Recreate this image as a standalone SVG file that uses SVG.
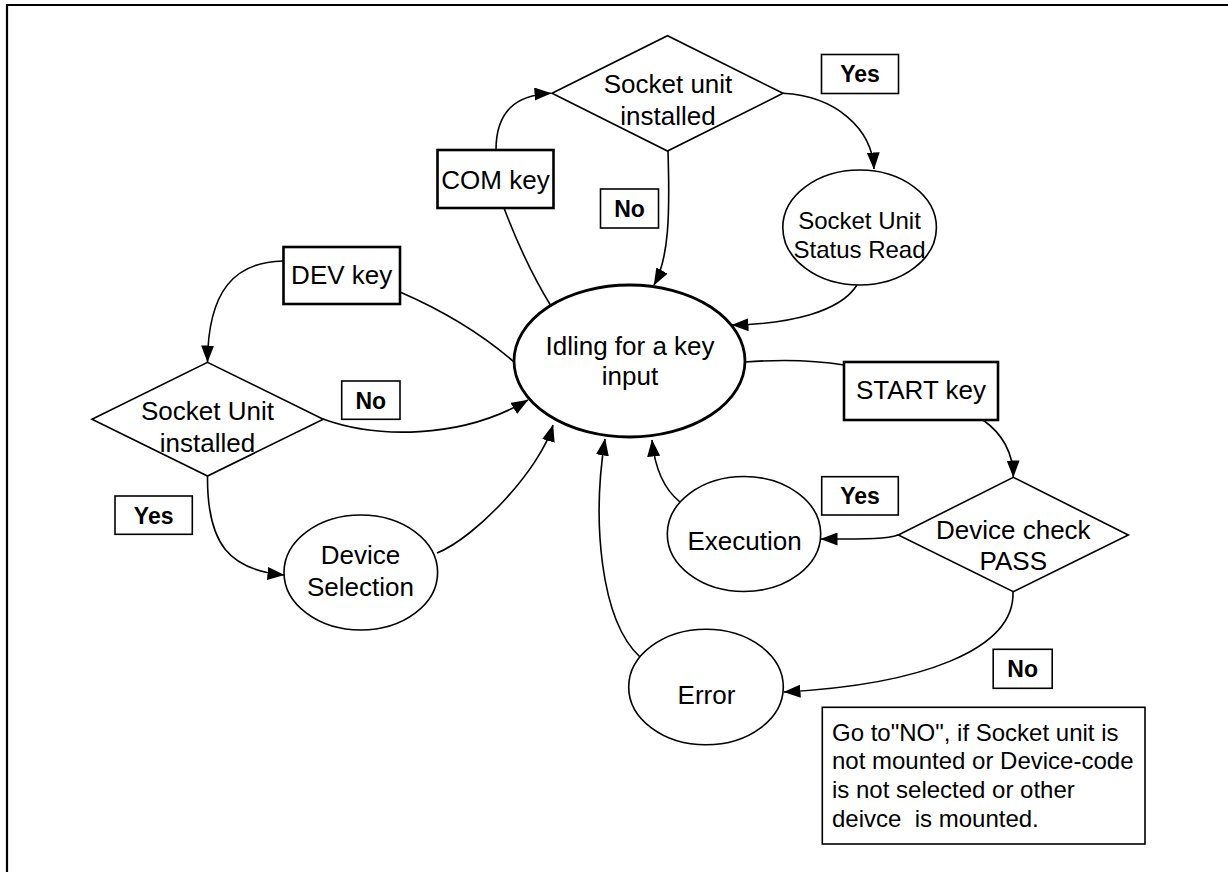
<svg xmlns="http://www.w3.org/2000/svg" width="1228" height="872" viewBox="0 0 1228 872">
<style>
text{font-family:"Liberation Sans",Arial,sans-serif;fill:#000;}
.t{font-size:26px;text-anchor:middle;}
.s{font-size:24px;text-anchor:middle;}
.b{font-size:23px;font-weight:bold;text-anchor:middle;}
.n{font-size:24px;text-anchor:start;}
.shape{fill:#fff;stroke:#000;stroke-width:1.6;}
.key{fill:#fff;stroke:#000;stroke-width:2.6;}
.lab{fill:#fff;stroke:#000;stroke-width:1.6;}
.main{fill:#fff;stroke:#000;stroke-width:2.8;}
.c{fill:none;stroke:#000;stroke-width:1.6;}
.a{marker-end:url(#ah);}
</style>
<defs>
<marker id="ah" viewBox="0 0 17 13" refX="16.5" refY="6.5" markerWidth="17" markerHeight="13" markerUnits="userSpaceOnUse" orient="auto">
<path d="M0,0 L17,6.5 L0,13 z" fill="#000"/>
</marker>
</defs>
<rect width="1228" height="872" fill="#fff"/>
<g id="frame">
<path d="M7,872 L7,5 L1228,5" fill="none" stroke="#000" stroke-width="2.2"/>
</g>
<g id="connectors">
<path class="c a" d="M496,150 C496,112 515,95 551,93.3"/>
<path class="c" d="M504,208 C518,245 535,280 551,306"/>
<path class="c a" d="M668,151 C670,215 669,258 654,285"/>
<path class="c a" d="M783,93.3 C835,96 872,128 874,169"/>
<path class="c a" d="M857,285 C840,312 790,324 732,325"/>
<path class="c a" d="M283,261 C235,262 208,290 207.5,362"/>
<path class="c" d="M400,292 C430,305 475,328 514,362"/>
<path class="c a" d="M323,419 C375,438 460,440 528,400"/>
<path class="c a" d="M207.5,476 C207,545 230,570 284,575"/>
<path class="c a" d="M437,553 C475,538 540,470 553,425"/>
<path class="c" d="M745,362 C785,359 820,361 844,365"/>
<path class="c a" d="M983,420 C1000,432 1013,450 1013.3,477"/>
<path class="c a" d="M898,535 C888,539 870,539 821,539"/>
<path class="c a" d="M680,502 C665,490 655,470 652,440"/>
<path class="c a" d="M1013,592 C1015,650 920,685 784,692"/>
<path class="c a" d="M640,657 C600,620 592,520 605,439"/>
</g>
<g id="idle">
<ellipse class="main" cx="629.5" cy="361" rx="115.5" ry="76"/>
<text class="t" x="630" y="355">Idling for a key</text>
<text class="t" x="630" y="385">input</text>
</g>
<g id="com-key">
<rect class="key" x="437.5" y="150" width="116" height="58"/>
<text class="t" x="495.5" y="188.5">COM key</text>
</g>
<g id="socket-top">
<polygon class="shape" points="552,93.3 667.5,35.7 783,93.3 667.5,151"/>
<text class="t" x="668" y="93">Socket unit</text>
<text class="t" x="668" y="125">installed</text>
</g>
<g id="yes-top">
<rect class="lab" x="821.5" y="54.5" width="77" height="39"/>
<text class="b" x="860" y="82">Yes</text>
</g>
<g id="no-top">
<rect class="lab" x="600.5" y="189" width="58" height="39"/>
<text class="b" x="629.6" y="217">No</text>
</g>
<g id="status-read">
<ellipse class="shape" cx="859.6" cy="227.5" rx="76.8" ry="57.5"/>
<text class="s" x="859.5" y="228.5">Socket Unit</text>
<text class="s" x="859.5" y="257.5">Status Read</text>
</g>
<g id="dev-key">
<rect class="key" x="283.5" y="247" width="116.5" height="57"/>
<text class="t" x="341.7" y="283.5">DEV key</text>
</g>
<g id="socket-left">
<polygon class="shape" points="92,419.3 207.5,362.3 323.3,419.3 207.5,476"/>
<text class="t" x="207.5" y="420">Socket Unit</text>
<text class="t" x="207.5" y="452">installed</text>
</g>
<g id="no-left">
<rect class="lab" x="341.7" y="381" width="58.3" height="38.3"/>
<text class="b" x="370.8" y="408.5">No</text>
</g>
<g id="yes-left">
<rect class="lab" x="115" y="496" width="77.3" height="38.3"/>
<text class="b" x="153.7" y="523.5">Yes</text>
</g>
<g id="device-selection">
<ellipse class="shape" cx="360.8" cy="572.5" rx="76.8" ry="57.5"/>
<text class="t" x="360.5" y="564">Device</text>
<text class="t" x="360.5" y="596">Selection</text>
</g>
<g id="start-key">
<rect class="key" x="844" y="362" width="154" height="58"/>
<text class="t" x="921" y="398.5">START key</text>
</g>
<g id="device-check">
<polygon class="shape" points="898.3,535 1013.3,477.3 1128.3,535 1013.3,591.7"/>
<text class="t" x="1013.3" y="539">Device check</text>
<text class="t" x="1013.3" y="570">PASS</text>
</g>
<g id="yes-right">
<rect class="lab" x="821.7" y="476.7" width="76.6" height="38.3"/>
<text class="b" x="860" y="503.5">Yes</text>
</g>
<g id="execution">
<ellipse class="shape" cx="744" cy="534" rx="76.7" ry="57.5"/>
<text class="t" x="744.5" y="550">Execution</text>
</g>
<g id="error">
<ellipse class="shape" cx="706" cy="687" rx="77.3" ry="57.8"/>
<text class="t" x="706.5" y="703.5">Error</text>
</g>
<g id="no-bottom">
<rect class="lab" x="993.2" y="649.3" width="59" height="39"/>
<text class="b" x="1022.7" y="676.5">No</text>
</g>
<g id="note">
<rect class="lab" x="822.3" y="707.3" width="322.7" height="136.7"/>
<text class="n" x="832" y="740.7">Go to"NO", if Socket unit is</text>
<text class="n" x="832" y="769.3">not mounted or Device-code</text>
<text class="n" x="832" y="798.3">is not selected or other</text>
<text class="n" x="832" y="827.3" style="white-space:pre">deivce  is mounted.</text>
</g>
</svg>
